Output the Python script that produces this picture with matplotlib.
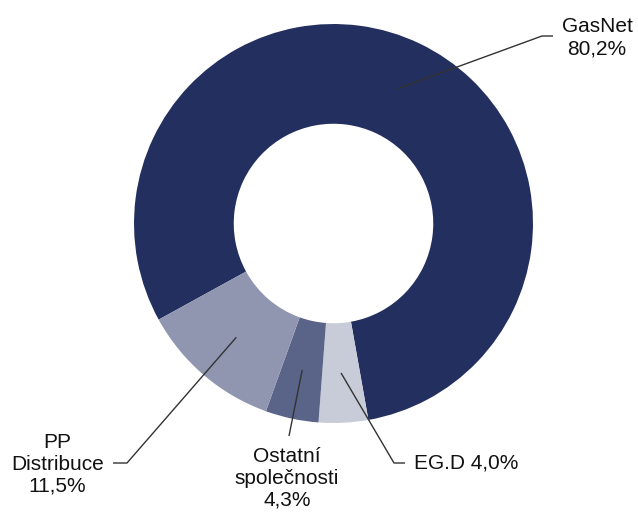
import matplotlib
matplotlib.use('Agg')
import numpy as np
import matplotlib.pyplot as plt

# data
companies = ['GasNet', 'EG.D', 'Ostatní\nspolečnosti', 'PP\nDistribuce']
shares = [80.2, 4.0, 4.3, 11.5]
share_labels = ['80,2%', '4,0%', '4,3%', '11,5%']
colors = ['#232F5E', '#C8CCD8', '#5A6388', '#9196B0']

plt.rcParams['font.family'] = ['Liberation Sans', 'DejaVu Sans']

W, H = 638, 513
CX, CY, R = 333.5, 223.5, 199.5  # pixel centre / radius of the donut


def px(x, y):
    # pixel -> data coords (radius 1 = R px)
    return (x - CX) / R, (CY - y) / R


fig = plt.figure(figsize=(W / 100, H / 100), dpi=100)
ax = fig.add_axes([0, 0, 1, 1])
ax.set_xlim(-CX / R, (W - CX) / R)
ax.set_ylim(-(H - CY) / R, CY / R)
ax.axis('off')

wedges, _ = ax.pie(shares, colors=colors, startangle=208.8, counterclock=False,
                   radius=1, wedgeprops=dict(width=0.5, edgecolor='none'),
                   frame=False)
ax.set_xlim(-CX / R, (W - CX) / R)
ax.set_ylim(-(H - CY) / R, CY / R)
ax.set_aspect('auto')

# label layout: elbow points (px) and text position (px)
layout = [
    dict(elbow=[(542, 36), (553, 36)], text=(597, 38), ha='center', one_line=False),
    dict(elbow=[(394, 463), (405, 463)], text=(414, 463), ha='left', one_line=True),
    dict(elbow=[(289, 436)], text=(287, 478), ha='center', one_line=False),
    dict(elbow=[(127, 463), (113, 463)], text=(57.5, 464), ha='center', one_line=False),
]

for w, name, lab, lay in zip(wedges, companies, share_labels, layout):
    mid = np.deg2rad((w.theta1 + w.theta2) / 2)
    xs = [0.75 * np.cos(mid)]
    ys = [0.75 * np.sin(mid)]
    for p in lay['elbow']:
        x, y = px(*p)
        xs.append(x)
        ys.append(y)
    ax.plot(xs, ys, color='#333333', lw=1, solid_capstyle='butt')
    txt = f'{name} {lab}' if lay['one_line'] else f'{name}\n{lab}'
    tx, ty = px(*lay['text'])
    ax.text(tx, ty, txt, ha=lay['ha'], va='center', fontsize=15,
            linespacing=1.2, color='#111111')

plt.savefig('out.png', dpi=100)
plt.close()
